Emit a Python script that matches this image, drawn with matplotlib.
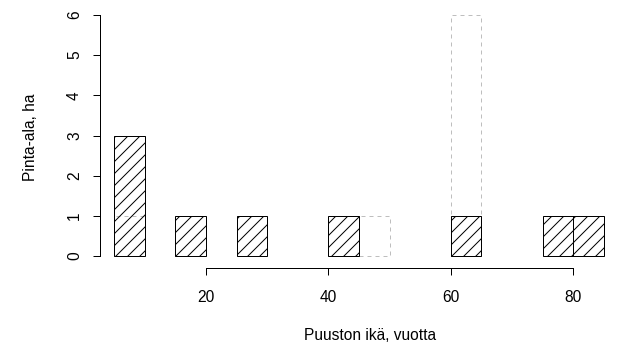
import matplotlib.pyplot as plt

plt.rcParams['font.family'] = ['Liberation Sans', 'DejaVu Sans']
plt.rcParams['hatch.linewidth'] = 1.0

# age classes (left edge of 5-year class) and area, ha
age_left = [5, 15, 25, 40, 60, 75, 80]
area = [3, 1, 1, 1, 1, 1, 1]

# second (dashed) series
age_left2 = [5, 45, 60]
area2 = [1, 1, 6]

bin_width = 5
x_ticks = [20, 40, 60, 80]
y_ticks = [0, 1, 2, 3, 4, 5, 6]

W, H = 643, 350
fs = 15.5
fig = plt.figure(figsize=(W / 72, H / 72), dpi=72)
ax = fig.add_axes([100 / W, (H - 256) / H, 535 / W, 241 / H])

ax.bar(age_left2, area2, width=bin_width, align='edge', facecolor='none',
       edgecolor='#bebebe', linewidth=1, linestyle=(0, (4, 4)), clip_on=False, zorder=2)
ax.bar(age_left, area, width=bin_width, align='edge', facecolor='none',
       edgecolor='black', linewidth=1, hatch='//', clip_on=False, zorder=3)
ax.axhline(0, color='black', linewidth=1, zorder=4)

ax.set_xlim(2.68, 90.1)
ax.set_ylim(0, 6)

for s in ['top', 'right']:
    ax.spines[s].set_visible(False)
ax.spines['bottom'].set_position(('outward', 12))
ax.spines['bottom'].set_bounds(20, 80)
ax.spines['left'].set_bounds(0, 6)
ax.spines['left'].set_linewidth(1)
ax.spines['bottom'].set_linewidth(1)

ax.set_xticks(x_ticks)
ax.set_yticks(y_ticks)
ax.tick_params(axis='x', length=7, width=1, pad=15, labelsize=fs)
ax.tick_params(axis='y', length=7, width=1, pad=11, labelsize=fs, labelrotation=90)
for t in ax.get_yticklabels():
    t.set_va('center')

fig.text(369.7 / W, (H - 336) / H, 'Puuston ikä, vuotta', ha='center', va='center', fontsize=fs)
fig.text(31 / W, (H - 137) / H, 'Pinta-ala, ha', ha='center', va='center',
         rotation=90, fontsize=fs)

fig.savefig('out.png', dpi=72)
